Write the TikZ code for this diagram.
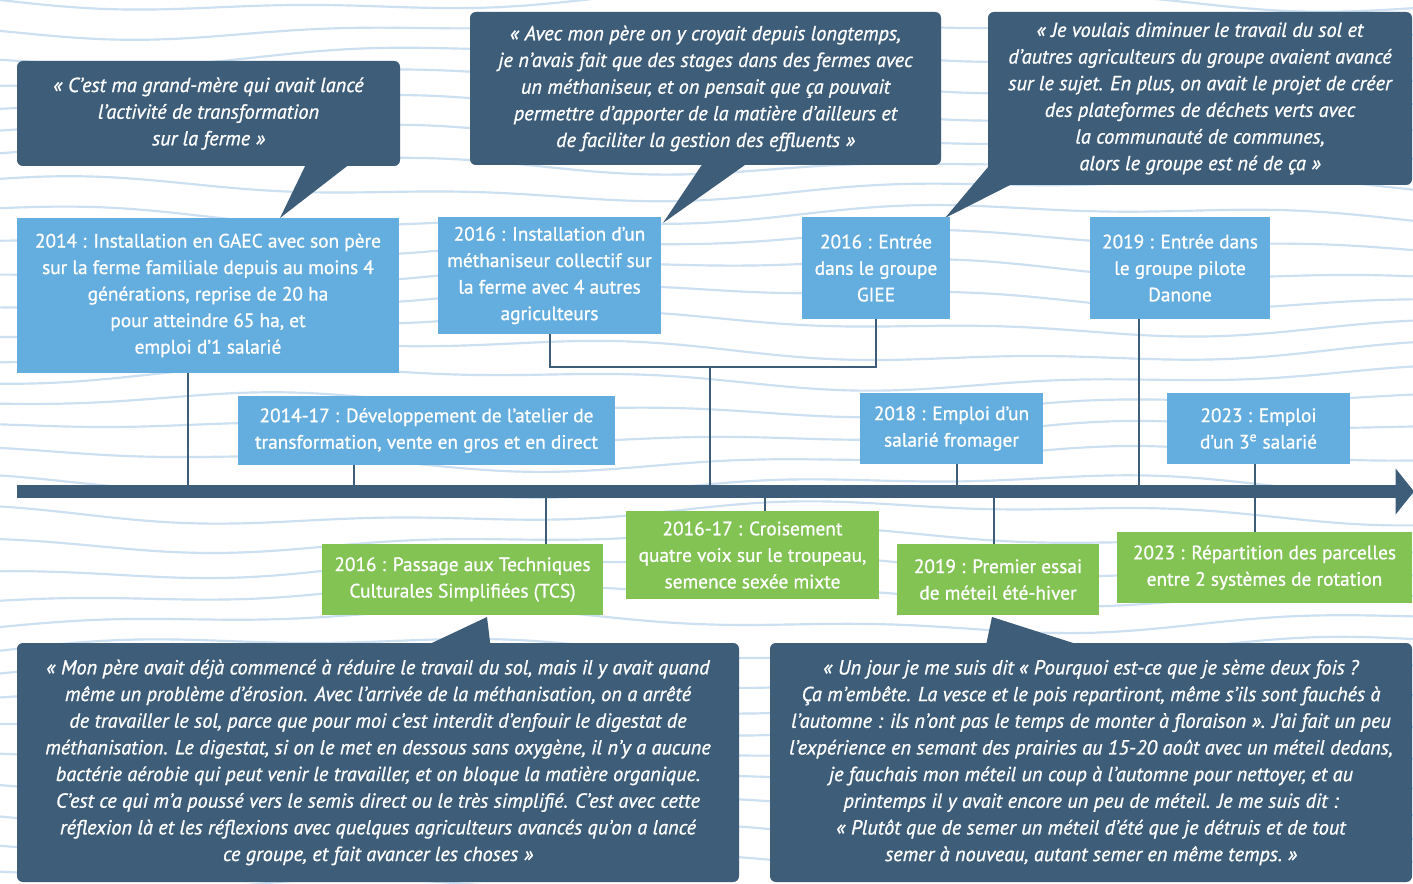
\documentclass[tikz,border=0pt]{standalone}
\usepackage{fontspec}
\setmainfont{PT Sans}
\newfontfamily\medfont{PT Sans}[FakeBold=1.0]
\usepackage{tikz}
\usetikzlibrary{arrows.meta, calc}

\definecolor{slate}{HTML}{3D5D79}
\definecolor{skyblue}{HTML}{64ADDF}
\definecolor{leafgreen}{HTML}{82C354}
\definecolor{wavecol}{HTML}{CCE0F2}

\begin{document}
\begin{tikzpicture}[x=0.6pt, y=-0.6pt,
            event/.style={rectangle, inner sep=0pt, align=center, text=white, font=\medfont\fontsize{11.6}{15.9}\selectfont},
            blueevent/.style={event, fill=skyblue},
            greenevent/.style={event, fill=leafgreen},
            quote/.style={rectangle, rounded corners=3.5pt, fill=slate, inner sep=0pt, align=center, text=white, font=\medfont\itshape\fontsize{12.2}{16}\selectfont},
            boxw/.style={minimum width=#1*0.6pt},
            boxh/.style={minimum height=#1*0.6pt},
            tick/.style={draw=slate, line width=1.2pt},
            wave/.style={draw=wavecol, line width=1.3pt}
        ]

            \useasboundingbox (0,0) rectangle (1413,884);
            \fill[white] (0,0) rectangle (1413,884);

% Wavy background
            \begin{scope}
            \clip (0,0) rectangle (1413,884);
            \foreach \k in {-1,...,33}
                \draw[wave] plot[domain=0:1413, samples=80, smooth] (\x, {27*\k + 9*sin(0.32*\x + 37*\k) + 4*sin(0.9*\x - 23*\k)});
            \end{scope}

% Quotes
            \node[quote, boxw=383, boxh=105] (qgrand) at (208.5,113.5) {«~C’est ma grand-mère qui avait lancé\\l’activité de transformation\\sur la ferme~»};
            \node[quote, boxw=471, boxh=153] (qmetha) at (705.5,88.5) {«~Avec mon père on y croyait depuis longtemps,\\je n’avais fait que des stages dans des fermes avec\\un méthaniseur, et on pensait que ça pouvait\\permettre d’apporter de la matière d’ailleurs et\\de faciliter la gestion des effluents~»};
            \node[quote, boxw=424, boxh=173] (qsol) at (1200,98.5) {«~Je voulais diminuer le travail du sol et\\d’autres agriculteurs du groupe avaient avancé\\sur le sujet. En plus, on avait le projet de créer\\des plateformes de déchets verts avec\\la communauté de communes,\\alors le groupe est né de ça~»};
            \node[quote, boxw=722, boxh=239] (qerosion) at (378,762.5) {«~Mon père avait déjà commencé à réduire le travail du sol, mais il y avait quand\\même un problème d’érosion. Avec l’arrivée de la méthanisation, on a arrêté\\de travailler le sol, parce que pour moi c’est interdit d’enfouir le digestat de\\méthanisation. Le digestat, si on le met en dessous sans oxygène, il n’y a aucune\\bactérie aérobie qui peut venir le travailler, et on bloque la matière organique.\\C’est ce qui m’a poussé vers le semis direct ou le très simplifié. C’est avec cette\\réflexion là et les réflexions avec quelques agriculteurs avancés qu’on a lancé\\ce groupe, et fait avancer les choses~»};
            \node[quote, boxw=642, boxh=239] (qmeteil) at (1091,762.5) {«~Un jour je me suis dit «~Pourquoi est-ce que je sème deux fois~?\\Ça m’embête. La vesce et le pois repartiront, même s’ils sont fauchés à\\l’automne : ils n’ont pas le temps de monter à floraison~». J’ai fait un peu\\l’expérience en semant des prairies au 15-20 août avec un méteil dedans,\\je fauchais mon méteil un coup à l’automne pour nettoyer, et au\\printemps il y avait encore un peu de méteil. Je me suis dit :\\«~Plutôt que de semer un méteil d’été que je détruis et de tout\\semer à nouveau, autant semer en même temps.~»};

% Quote tails
            \fill[slate] (308,160) -- (280,218) -- (355,160) -- cycle;
            \fill[slate] (705,160) -- (663,223) -- (752,160) -- cycle;
            \fill[slate] (994,160) -- (945,218) -- (1020,180) -- cycle;
            \fill[slate] (417,650) -- (487,617) -- (491,650) -- cycle;
            \fill[slate] (985,650) -- (992,617) -- (1095,650) -- cycle;

% Timeline
            \coordinate (tstart) at (17,491.5);
            \coordinate (tend) at (1414,491.5);
            \coordinate (tk1) at (188,491.5);
            \coordinate (tk2) at (354,491.5);
            \coordinate (tk3) at (710,491.5);
            \coordinate (tk4) at (957,491.5);
            \coordinate (tk5) at (1139,491.5);
            \coordinate (tk6) at (1255,491.5);
            \coordinate (tk7) at (546,491.5);
            \coordinate (tk8) at (765,491.5);
            \coordinate (tk9) at (994,491.5);
            \coordinate (join) at (710,367);

% Events above
            \node[blueevent, boxw=382, boxh=155] (inst) at (208,295.5) {2014 : Installation en GAEC avec son père\\sur la ferme familiale depuis au moins 4\\générations, reprise de 20 ha\\pour atteindre 65 ha, et\\emploi d’1 salarié};
            \node[blueevent, boxw=223, boxh=117] (metha) at (549.5,275.5) {2016 : Installation d’un\\méthaniseur collectif sur\\la ferme avec 4 autres\\agriculteurs};
            \node[blueevent, boxw=148, boxh=102] (giee) at (876,268) {2016 : Entrée\\dans le groupe\\GIEE};
            \node[blueevent, boxw=180, boxh=102] (danone) at (1180,268) {2019 : Entrée dans\\le groupe pilote\\Danone};
            \node[blueevent, boxw=377, boxh=69] (atelier) at (426.5,430.5) {2014-17 : Développement de l’atelier de\\transformation, vente en gros et en direct};
            \node[blueevent, boxw=183, boxh=71] (fromager) at (951.5,428.5) {2018 : Emploi d’un\\salarié fromager};
            \node[blueevent, boxw=183, boxh=71] (salarie) at (1258.5,428.5) {2023 : Emploi\\d’un 3\textsuperscript{e} salarié};

% Events below
            \node[greenevent, boxw=281, boxh=71] (tcs) at (462.5,579.5) {2016 : Passage aux Techniques\\Culturales Simplifiées (TCS)};
            \node[greenevent, boxw=253, boxh=88] (croisement) at (752.5,555) {2016-17 : Croisement\\quatre voix sur le troupeau,\\semence sexée mixte};
            \node[greenevent, boxw=202, boxh=71] (meteil) at (998,579.5) {2019 : Premier essai\\de méteil été-hiver};
            \node[greenevent, boxw=295, boxh=71] (rotation) at (1264.5,567.5) {2023 : Répartition des parcelles\\entre 2 systèmes de rotation};

% Ticks
            \draw[tick] (inst.south -| tk1) -- (tk1);
            \draw[tick] (atelier.south -| tk2) -- (tk2);
            \draw[tick] (metha.south) |- (join) -| (giee.south);
            \draw[tick] (join) -- (tk3);
            \draw[tick] (fromager.south -| tk4) -- (tk4);
            \draw[tick] (danone.south -| tk5) -- (tk5);
            \draw[tick] (salarie.south -| tk6) -- (rotation.north -| tk6);
            \draw[tick] (tk7) -- (tcs.north -| tk7);
            \draw[tick] (tk8) -- (croisement.north -| tk8);
            \draw[tick] (tk9) -- (meteil.north -| tk9);

            \draw[slate, line width=7.8pt, -{Triangle[length=11pt, width=27pt]}] (tstart) -- (tend);

        \end{tikzpicture}
\end{document}
